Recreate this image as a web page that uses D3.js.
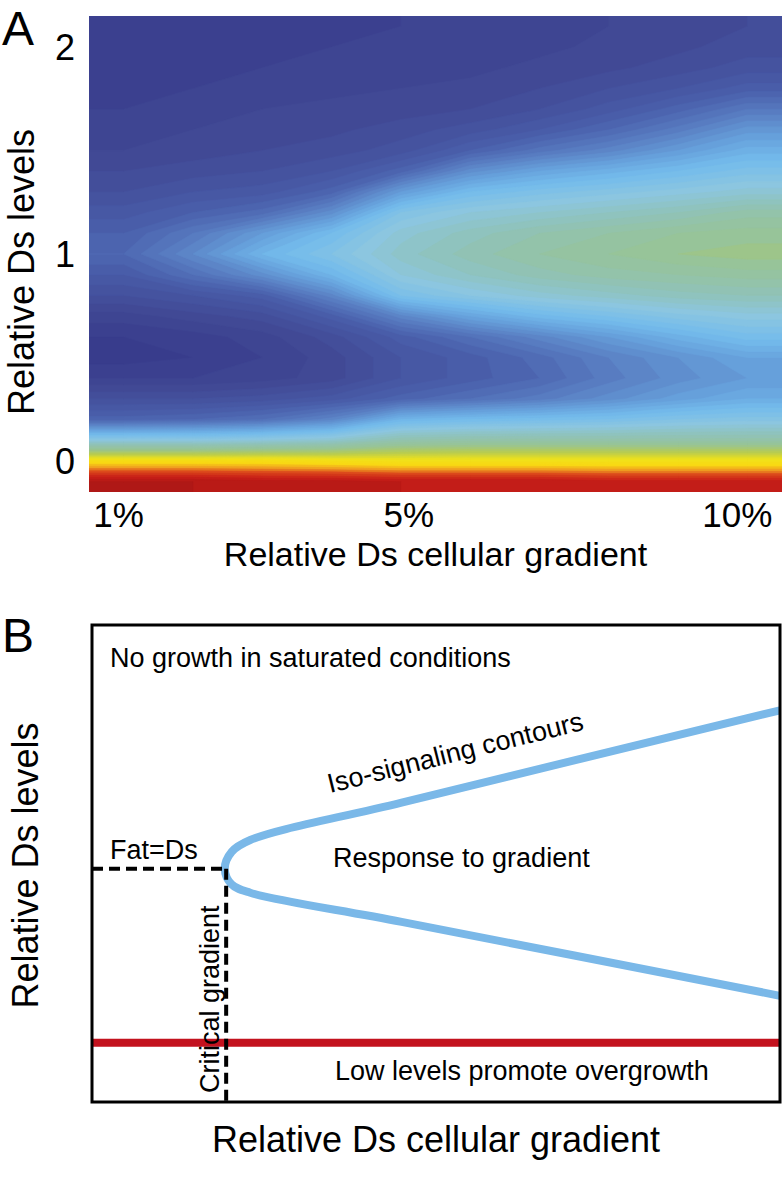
<!DOCTYPE html>
<html>
<head>
<meta charset="utf-8">
<script src="https://cdn.jsdelivr.net/npm/d3@7"></script>
<style>
  body { margin: 0; background: #fff; }
  svg { display: block; font-family: "Liberation Sans", Arial, sans-serif; }
</style>
</head>
<body>
<svg id="chart" width="784" height="1188"></svg>
<script>
// ---- Panel A data: signal (0 = navy, 1 = dark red)
const gradients = [1, 2, 3, 4, 5, 6, 7, 8, 9, 10]; // % cellular gradient (columns)
const levels = [2.1, 2.0, 1.9, 1.8, 1.7, 1.6, 1.5, 1.4, 1.3, 1.2, 1.1, 1.0,
  0.9, 0.8, 0.7, 0.6, 0.5, 0.4, 0.3, 0.2, 0.1, 0.0, -0.1]; // relative Ds (rows, top to bottom)
const signal = [
  [0.02, 0.025, 0.03, 0.035, 0.04, 0.045, 0.05, 0.06, 0.07, 0.08],
  [0.025, 0.03, 0.035, 0.04, 0.045, 0.05, 0.055, 0.065, 0.075, 0.09],
  [0.03, 0.035, 0.04, 0.045, 0.05, 0.055, 0.065, 0.075, 0.09, 0.11],
  [0.035, 0.04, 0.05, 0.055, 0.06, 0.065, 0.08, 0.1, 0.12, 0.15],
  [0.04, 0.05, 0.06, 0.065, 0.07, 0.08, 0.1, 0.13, 0.17, 0.22],
  [0.05, 0.06, 0.07, 0.075, 0.09, 0.11, 0.14, 0.18, 0.23, 0.29],
  [0.06, 0.07, 0.08, 0.09, 0.11, 0.16, 0.21, 0.25, 0.3, 0.35],
  [0.08, 0.09, 0.1, 0.12, 0.17, 0.27, 0.32, 0.35, 0.38, 0.41],
  [0.1, 0.12, 0.13, 0.17, 0.3, 0.38, 0.41, 0.43, 0.45, 0.47],
  [0.13, 0.16, 0.19, 0.27, 0.42, 0.46, 0.48, 0.5, 0.52, 0.55],
  [0.16, 0.22, 0.3, 0.38, 0.47, 0.51, 0.54, 0.56, 0.58, 0.59],
  [0.18, 0.26, 0.36, 0.42, 0.49, 0.53, 0.56, 0.58, 0.6, 0.61],
  [0.14, 0.2, 0.27, 0.36, 0.46, 0.5, 0.53, 0.55, 0.56, 0.57],
  [0.1, 0.12, 0.15, 0.25, 0.4, 0.44, 0.47, 0.49, 0.51, 0.52],
  [0.05, 0.07, 0.09, 0.15, 0.25, 0.32, 0.37, 0.4, 0.43, 0.45],
  [0.02, 0.03, 0.05, 0.09, 0.15, 0.2, 0.25, 0.3, 0.35, 0.39],
  [0.01, 0.02, 0.04, 0.07, 0.12, 0.15, 0.19, 0.24, 0.28, 0.32],
  [0.04, 0.04, 0.05, 0.07, 0.12, 0.15, 0.18, 0.23, 0.27, 0.3],
  [0.1, 0.1, 0.11, 0.13, 0.17, 0.2, 0.23, 0.27, 0.31, 0.34],
  [0.17, 0.18, 0.2, 0.25, 0.36, 0.38, 0.39, 0.4, 0.42, 0.43],
  [0.45, 0.45, 0.46, 0.48, 0.54, 0.55, 0.55, 0.55, 0.55, 0.55],
  [0.77, 0.77, 0.77, 0.76, 0.75, 0.75, 0.75, 0.75, 0.75, 0.75],
  [0.96, 0.96, 0.95, 0.95, 0.94, 0.94, 0.94, 0.93, 0.93, 0.93],
];
const xTicksA = [1, 5, 10];
const yTicksA = [0, 1, 2];

// jet-like colour map used by the figure
const cmapStops = [0, 0.08, 0.16, 0.24, 0.32, 0.38, 0.45, 0.52, 0.6, 0.67, 0.74, 0.79, 0.83, 0.87, 0.92, 1];
const cmapColors = ["#373a8a", "#424b97", "#4a60ac", "#5a80c4", "#68a4de", "#74bcec", "#8cc6e0",
  "#90c2b8", "#98c494", "#b8cc50", "#f0e21a", "#f8d814", "#f0a020", "#dc4a1c", "#c81e18", "#a01414"];

// ---- Panel B data (schematic)
const isoContour = [
  [10, 1.91], [4.5, 1.38], [2.3, 1.165], [2.03, 1.097], [1.93, 1.0],
  [2.03, 0.91], [2.3, 0.862], [4.5, 0.695], [10, 0.27],
];
const criticalGradient = 1.95;
const fatEqualsDs = 1.0;
const lowLevel = 0;

const svg = d3.select("#chart");

// ===== Panel A =====
const plotA = { left: 89, right: 782, top: 16, bottom: 492 };
const step = levels[0] - levels[1];
const xA = d3.scaleLinear()
  .domain([gradients[0] - 0.5, gradients[gradients.length - 1] + 0.5])
  .range([plotA.left, plotA.right]);
const yA = d3.scaleLinear()
  .domain([levels[levels.length - 1] - step / 2, levels[0] + step / 2])
  .range([plotA.bottom, plotA.top]);
const color = d3.scaleLinear().domain(cmapStops).range(cmapColors).clamp(true);

// repeat the edge rows/columns so the contour outline falls outside the clip
const padded = [signal[0], ...signal, signal[signal.length - 1]]
  .map(r => [r[0], ...r, r[r.length - 1]]);
const nx = gradients.length + 2, ny = levels.length + 2;
const thresholds = d3.range(0, 1, 0.02);
const contours = d3.contours().size([nx, ny]).thresholds(thresholds)(padded.flat());

// grid coordinates -> data -> pixels
const gridProj = d3.geoTransform({
  point(x, y) {
    this.stream.point(xA(gradients[0] - 1.5 + x), yA(levels[0] + 1.5 * step - y * step));
  }
});
const gridPath = d3.geoPath(gridProj);

svg.append("clipPath").attr("id", "clipA")
  .append("rect")
  .attr("x", plotA.left).attr("y", plotA.top)
  .attr("width", plotA.right - plotA.left).attr("height", plotA.bottom - plotA.top);

svg.append("g")
  .attr("clip-path", "url(#clipA)")
  .selectAll("path")
  .data(contours)
  .join("path")
  .attr("d", gridPath)
  .attr("fill", d => color(d.value + 0.01))
  .attr("stroke", d => color(d.value + 0.01))
  .attr("stroke-width", 0.6);

svg.append("text").attr("x", 2).attr("y", 45)
  .attr("font-size", 48).text("A");

svg.append("g").selectAll("text")
  .data(yTicksA)
  .join("text")
  .attr("x", 75)
  .attr("y", d => yA(d))
  .attr("dy", "0.36em")
  .attr("text-anchor", "end")
  .attr("font-size", 36)
  .text(d => d);

svg.append("g").selectAll("text")
  .data(xTicksA)
  .join("text")
  .attr("x", d => xA(d))
  .attr("dx", d => d === 10 ? -10 : d === 1 ? -5 : 8)
  .attr("y", 527)
  .attr("text-anchor", "middle")
  .attr("font-size", 35)
  .text(d => d + "%");

svg.append("text")
  .attr("x", (plotA.left + plotA.right) / 2)
  .attr("y", 566)
  .attr("text-anchor", "middle")
  .attr("font-size", 34)
  .text("Relative Ds cellular gradient");

svg.append("text")
  .attr("transform", `translate(34, ${(plotA.top + plotA.bottom) / 2 + 18}) rotate(-90)`)
  .attr("text-anchor", "middle")
  .attr("font-size", 36)
  .text("Relative Ds levels");

// ===== Panel B =====
const boxB = { left: 92, right: 780, top: 625, bottom: 1102 };
const xB = d3.scaleLinear().domain([0, 10]).range([boxB.left, boxB.right]);
const yB = d3.scaleLinear().domain([-0.34, 2.4]).range([boxB.bottom, boxB.top]);

svg.append("text").attr("x", 2).attr("y", 652)
  .attr("font-size", 48).text("B");

// low-level line
svg.append("line")
  .attr("x1", xB(0)).attr("x2", xB(10))
  .attr("y1", yB(lowLevel)).attr("y2", yB(lowLevel))
  .attr("stroke", "#c3121e").attr("stroke-width", 8);

// iso-signaling contour
const line = d3.line()
  .x(d => xB(d[0]))
  .y(d => yB(d[1]))
  .curve(d3.curveCatmullRom.alpha(0.5));

svg.append("path")
  .datum(isoContour)
  .attr("d", line)
  .attr("fill", "none")
  .attr("stroke", "#7ab8e8")
  .attr("stroke-width", 8);

// Fat = Ds and critical gradient guides
svg.append("line")
  .attr("x1", xB(0)).attr("x2", xB(criticalGradient))
  .attr("y1", yB(fatEqualsDs)).attr("y2", yB(fatEqualsDs))
  .attr("stroke", "#000").attr("stroke-width", 4)
  .attr("stroke-dasharray", "11,6");

svg.append("line")
  .attr("x1", xB(criticalGradient)).attr("x2", xB(criticalGradient))
  .attr("y1", yB(fatEqualsDs)).attr("y2", boxB.bottom)
  .attr("stroke", "#000").attr("stroke-width", 4)
  .attr("stroke-dasharray", "11,6");

svg.append("rect")
  .attr("x", boxB.left).attr("y", boxB.top)
  .attr("width", boxB.right - boxB.left).attr("height", boxB.bottom - boxB.top)
  .attr("fill", "none").attr("stroke", "#000").attr("stroke-width", 3);

const noteSize = 27;
svg.append("text").attr("x", 110).attr("y", 667)
  .attr("font-size", noteSize).text("No growth in saturated conditions");
svg.append("text").attr("x", 110).attr("y", 859)
  .attr("font-size", noteSize).text("Fat=Ds");
svg.append("text").attr("x", 333).attr("y", 867)
  .attr("font-size", noteSize).text("Response to gradient");
svg.append("text").attr("x", 335).attr("y", 1080)
  .attr("font-size", noteSize).text("Low levels promote overgrowth");
svg.append("text")
  .attr("transform", "translate(330, 793) rotate(-14)")
  .attr("font-size", noteSize).text("Iso-signaling contours");
svg.append("text")
  .attr("transform", `translate(219, 1093) rotate(-90)`)
  .attr("font-size", noteSize).text("Critical gradient");

svg.append("text")
  .attr("x", (boxB.left + boxB.right) / 2)
  .attr("y", 1152)
  .attr("text-anchor", "middle")
  .attr("font-size", 36)
  .text("Relative Ds cellular gradient");

svg.append("text")
  .attr("transform", `translate(38, ${(boxB.top + boxB.bottom) / 2 + 2}) rotate(-90)`)
  .attr("text-anchor", "middle")
  .attr("font-size", 36)
  .text("Relative Ds levels");
</script>
</body>
</html>
